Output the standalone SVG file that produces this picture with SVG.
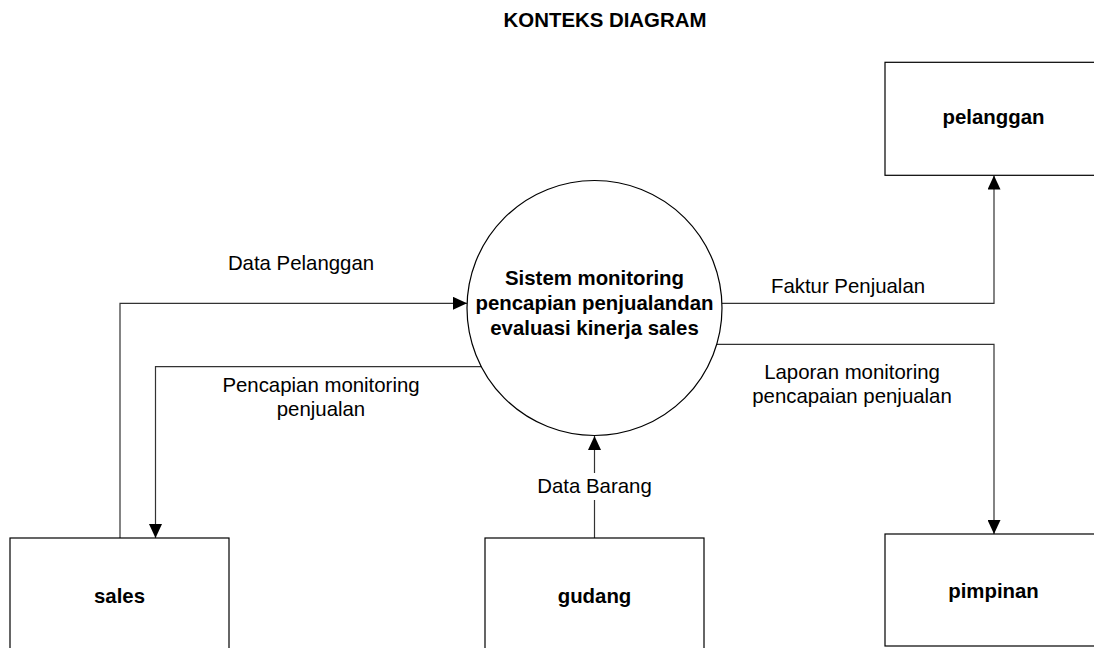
<svg xmlns="http://www.w3.org/2000/svg" width="1094" height="648" viewBox="0 0 1094 648">
<style>
text{font-family:"Liberation Sans",Arial,sans-serif;font-size:20.4px;fill:#000;text-anchor:middle}
.b{font-weight:bold}
.box{fill:#fff;stroke:#000;stroke-width:1.2}
.ln{fill:none;stroke:#333;stroke-width:1.2}
</style>
<defs>
<marker id="ah" viewBox="0 0 14 13" refX="14" refY="6.5" markerWidth="14" markerHeight="13" markerUnits="userSpaceOnUse" orient="auto">
<path d="M0,0 L14,6.5 L0,13 Z" fill="#000"/>
</marker>
</defs>
<rect width="1094" height="648" fill="#fff"/>
<text class="b" x="605" y="27">KONTEKS DIAGRAM</text>
<g id="connectors">
<polyline class="ln" points="120,538 120,303.3 467,303.3" marker-end="url(#ah)"/>
<polyline class="ln" points="481.5,366.7 155.5,366.7 155.5,538" marker-end="url(#ah)"/>
<polyline class="ln" points="722,303.3 994,303.3 994,175.5" marker-end="url(#ah)"/>
<polyline class="ln" points="716.7,344.3 994,344.3 994,534" marker-end="url(#ah)"/>
<line class="ln" x1="594.5" y1="538" x2="594.5" y2="500"/>
<line class="ln" x1="594.5" y1="473" x2="594.5" y2="436" marker-end="url(#ah)"/>
<text x="301" y="270">Data Pelanggan</text>
<text x="321" y="391.7">Pencapian monitoring</text>
<text x="321" y="416">penjualan</text>
<text x="848" y="293.3">Faktur Penjualan</text>
<text x="852" y="379">Laporan monitoring</text>
<text x="852" y="403">pencapaian penjualan</text>
<text x="594.5" y="493.3">Data Barang</text>
</g>
<g id="process">
<circle cx="594.5" cy="308" r="127.5" fill="#fff" stroke="#000" stroke-width="1.2"/>
<text class="b" x="594.5" y="285">Sistem monitoring</text>
<text class="b" x="594.5" y="310">pencapian penjualandan</text>
<text class="b" x="594.5" y="335">evaluasi kinerja sales</text>
</g>
<g id="pelanggan">
<rect class="box" x="885" y="62.3" width="219" height="113"/>
<text class="b" x="993.5" y="124.3">pelanggan</text>
</g>
<g id="sales">
<rect class="box" x="10" y="538" width="219" height="112"/>
<text class="b" x="119.5" y="602.5">sales</text>
</g>
<g id="gudang">
<rect class="box" x="485" y="538" width="219" height="112"/>
<text class="b" x="594.5" y="603">gudang</text>
</g>
<g id="pimpinan">
<rect class="box" x="885" y="534" width="219" height="112"/>
<text class="b" x="993.5" y="597.7">pimpinan</text>
</g>
</svg>
